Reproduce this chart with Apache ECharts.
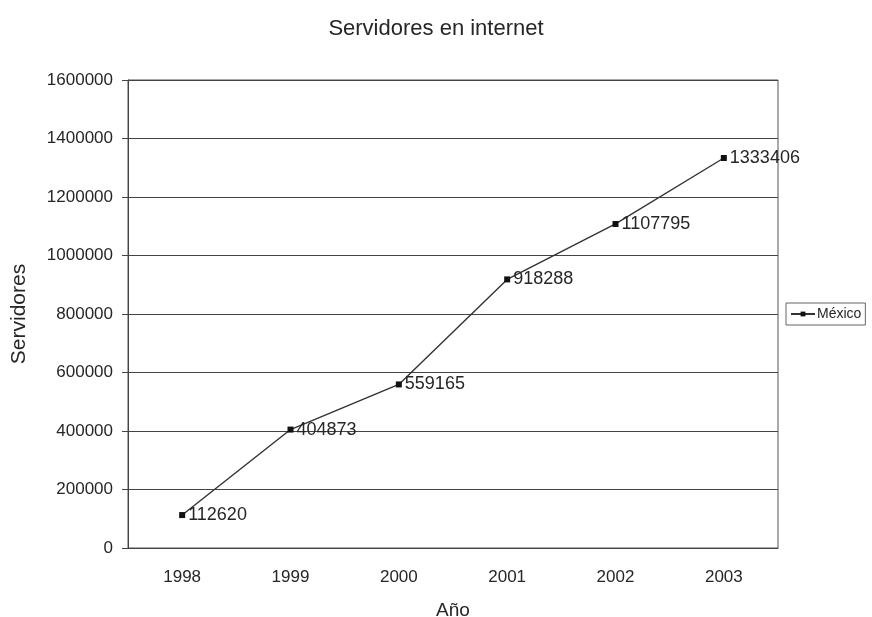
<!DOCTYPE html>
<html>
<head>
<meta charset="utf-8">
<script src="https://cdn.jsdelivr.net/npm/echarts@6/dist/echarts.min.js"></script>
<style>
  html, body { margin: 0; padding: 0; background: #fff; }
  #chart { width: 872px; height: 617px; }
</style>
</head>
<body>
<div id="chart"></div>
<script>
// Servidores de internet en México, 1998–2003
const years = ['1998', '1999', '2000', '2001', '2002', '2003'];
const mexico = [112620, 404873, 559165, 918288, 1107795, 1333406];
const yTicks = [0, 200000, 400000, 600000, 800000, 1000000, 1200000, 1400000, 1600000];

const font = 'Liberation Sans, Arial, sans-serif';
const chart = echarts.init(document.getElementById('chart'));

chart.setOption({
  backgroundColor: '#ffffff',
  animation: false,
  title: {
    text: 'Servidores en internet',
    left: 'center',
    top: 13,
    textStyle: { fontFamily: font, fontSize: 22, fontWeight: 'normal', color: '#262626' }
  },
  legend: {
    data: ['México'],
    orient: 'vertical',
    left: 786,
    top: 303,
    padding: [4, 4, 4, 4],
    itemGap: 0,
    itemWidth: 24,
    itemHeight: 6,
    borderColor: '#666',
    borderWidth: 1,
    textStyle: { fontFamily: font, fontSize: 14, color: '#262626', padding: [0, 0, 0, -3] }
  },
  grid: {
    left: 128, top: 80, right: 94, bottom: 69,
    outerBoundsMode: 'none',
    show: true, borderColor: '#555', borderWidth: 1
  },
  xAxis: {
    type: 'category',
    data: years,
    boundaryGap: true,
    name: 'Año',
    nameLocation: 'middle',
    nameGap: 53,
    nameTextStyle: { fontFamily: font, fontSize: 19, color: '#262626' },
    axisLine: { lineStyle: { color: '#444' } },
    axisTick: { show: false },
    axisLabel: { fontFamily: font, fontSize: 17, color: '#262626', margin: 21 }
  },
  yAxis: {
    type: 'value',
    min: yTicks[0],
    max: yTicks[yTicks.length - 1],
    interval: yTicks[1] - yTicks[0],
    name: 'Servidores',
    nameLocation: 'middle',
    nameGap: 98,
    nameTextStyle: { fontFamily: font, fontSize: 21, color: '#262626' },
    axisLine: { show: true, lineStyle: { color: '#444' } },
    axisTick: { show: true, length: 6, lineStyle: { color: '#444' } },
    axisLabel: {
      fontFamily: font, fontSize: 17, color: '#262626', margin: 15,
      formatter: v => String(v)
    },
    splitLine: { show: true, lineStyle: { color: '#444', width: 1 } }
  },
  series: [{
    name: 'México',
    type: 'line',
    data: mexico,
    symbol: 'rect',
    symbolSize: 6,
    itemStyle: { color: '#111' },
    lineStyle: { color: '#333', width: 1.4 },
    label: {
      show: true,
      position: 'right',
      distance: 3,
      fontFamily: font,
      fontSize: 18,
      color: '#262626'
    }
  }]
});
</script>
</body>
</html>
